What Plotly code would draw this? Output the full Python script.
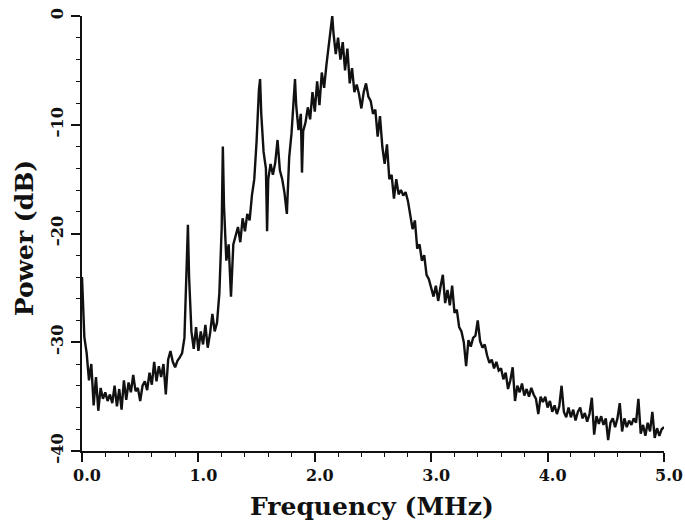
import plotly.graph_objects as go

# Power spectrum sampled in frequency (MHz) and power (dB)
freq = [
    0.00, 0.02, 0.04, 0.06, 0.08, 0.10, 0.12, 0.14, 0.16, 0.18,
    0.20, 0.22, 0.24, 0.26, 0.28, 0.30, 0.32, 0.34, 0.36, 0.38,
    0.40, 0.42, 0.44, 0.46, 0.48, 0.50, 0.52, 0.54, 0.56, 0.58,
    0.60, 0.62, 0.64, 0.66, 0.68, 0.70, 0.72, 0.74, 0.76, 0.78,
    0.80, 0.82, 0.84, 0.86, 0.88, 0.90, 0.91, 0.92, 0.94, 0.96,
    0.98, 1.00, 1.02, 1.04, 1.06, 1.08, 1.10, 1.12, 1.14, 1.16,
    1.18, 1.20, 1.21, 1.22, 1.24, 1.26, 1.28, 1.30, 1.32, 1.34,
    1.36, 1.38, 1.40, 1.42, 1.44, 1.46, 1.48, 1.50, 1.52, 1.53,
    1.54, 1.56, 1.58, 1.59, 1.60, 1.62, 1.64, 1.66, 1.68, 1.70,
    1.72, 1.74, 1.76, 1.78, 1.80, 1.82, 1.83, 1.84, 1.86, 1.88,
    1.89, 1.90, 1.92, 1.94, 1.96, 1.98, 2.00, 2.02, 2.04, 2.06,
    2.08, 2.10, 2.12, 2.14, 2.15, 2.16, 2.18, 2.20, 2.22, 2.24,
    2.26, 2.28, 2.30, 2.32, 2.34, 2.36, 2.38, 2.40, 2.42, 2.44,
    2.46, 2.48, 2.50, 2.52, 2.54, 2.56, 2.58, 2.60, 2.62, 2.64,
    2.66, 2.68, 2.70, 2.72, 2.74, 2.76, 2.78, 2.80, 2.82, 2.84,
    2.86, 2.88, 2.90, 2.92, 2.94, 2.96, 2.98, 3.00, 3.02, 3.04,
    3.06, 3.08, 3.10, 3.12, 3.14, 3.16, 3.18, 3.20, 3.22, 3.24,
    3.26, 3.28, 3.30, 3.32, 3.34, 3.36, 3.38, 3.40, 3.42, 3.44,
    3.46, 3.48, 3.50, 3.52, 3.54, 3.56, 3.58, 3.60, 3.62, 3.64,
    3.66, 3.68, 3.70, 3.72, 3.74, 3.76, 3.78, 3.80, 3.82, 3.84,
    3.86, 3.88, 3.90, 3.92, 3.94, 3.96, 3.98, 4.00, 4.02, 4.04,
    4.06, 4.08, 4.10, 4.12, 4.14, 4.16, 4.18, 4.20, 4.22, 4.24,
    4.26, 4.28, 4.30, 4.32, 4.34, 4.36, 4.38, 4.40, 4.42, 4.44,
    4.46, 4.48, 4.50, 4.52, 4.54, 4.56, 4.58, 4.60, 4.62, 4.64,
    4.66, 4.68, 4.70, 4.72, 4.74, 4.76, 4.78, 4.80, 4.82, 4.84,
    4.86, 4.88, 4.90, 4.92, 4.94, 4.96, 4.98, 5.00,
]

power_db = [
    -24.0, -29.5, -31.0, -33.5, -32.0, -35.8, -33.2, -36.3, -34.2, -35.2,
    -34.6, -35.4, -34.8, -35.6, -34.0, -35.9, -34.3, -36.2, -33.5, -35.3,
    -33.7, -34.6, -33.0, -34.5, -34.2, -35.4, -34.0, -33.6, -34.4, -32.8,
    -33.9, -31.8, -33.6, -32.2, -33.2, -32.0, -34.8, -31.6, -30.8, -31.8,
    -32.3, -31.7, -31.4, -31.0, -29.6, -22.5, -19.2, -24.0, -29.0, -30.6,
    -28.6, -30.8, -29.0, -30.2, -28.4, -30.5, -29.2, -27.4, -29.0, -28.2,
    -25.5, -19.5, -12.0, -17.5, -22.5, -21.0, -25.8, -21.0, -20.3, -19.4,
    -20.8, -18.6, -19.8, -18.2, -18.8, -16.5, -15.0, -11.5, -6.8, -5.8,
    -9.0, -12.5, -14.0, -19.8, -15.0, -13.6, -14.6, -13.5, -11.4, -14.2,
    -15.0, -16.3, -18.2, -13.0, -10.8, -7.5, -5.8, -8.2, -10.5, -9.0,
    -14.4, -10.6, -9.8, -8.4, -9.5, -7.0, -8.8, -6.0, -8.2, -5.2,
    -6.6, -4.5, -2.5, -0.8, 0.0, -1.5, -3.5, -2.0, -4.0, -2.4,
    -5.0, -3.0, -6.2, -4.8, -7.0, -6.3, -7.2, -8.5, -7.0, -6.2,
    -7.4, -7.8, -9.0, -8.6, -11.1, -9.2, -12.0, -13.6, -11.8, -15.0,
    -14.6, -16.8, -15.0, -16.4, -16.0, -16.5, -16.2, -17.0, -18.3, -19.6,
    -18.8, -21.4, -21.0, -22.5, -22.0, -23.8, -24.2, -25.0, -25.8, -24.8,
    -26.2, -24.9, -23.8, -26.4, -25.2, -26.6, -24.8, -27.3, -27.0, -28.6,
    -29.0, -30.0, -32.2, -29.8, -30.4, -29.6, -29.4, -28.0, -29.9, -30.5,
    -30.2, -31.2, -31.9, -31.6, -32.4, -31.8, -32.6, -32.4, -33.4, -32.8,
    -34.3, -33.5, -32.3, -35.4, -34.0, -34.6, -33.8, -34.9, -34.3, -35.0,
    -34.2, -34.8, -35.2, -36.6, -35.0, -35.5, -35.0, -36.0, -35.4, -36.4,
    -35.8, -36.6, -35.9, -34.0, -36.4, -36.9, -36.0, -36.9, -36.2, -37.2,
    -36.4, -36.0, -37.0, -36.5, -37.3, -36.6, -35.1, -38.5, -36.8, -37.5,
    -36.8, -37.6, -37.0, -39.0, -37.4, -37.0, -37.8, -37.0, -35.6, -38.2,
    -37.0, -37.8, -37.2, -37.6, -37.0, -37.4, -35.2, -38.4, -37.6, -38.6,
    -37.4, -38.2, -36.4, -38.8, -37.9, -38.6, -38.0, -37.8,
]

x_ticks = [0.0, 1.0, 2.0, 3.0, 4.0, 5.0]
x_tick_text = ["0.0", "1.0", "2.0", "3.0", "4.0", "5.0"]
y_ticks = [-40, -30, -20, -10, 0]
y_tick_text = ["\u201340", "\u201330", "\u201320", "\u201310", "0"]

SERIF = "DejaVu Serif"
INK = "#111111"

fig = go.Figure()
fig.add_trace(go.Scatter(
    x=freq, y=power_db, mode="lines",
    line=dict(color=INK, width=2.4),
    cliponaxis=False, hoverinfo="skip", showlegend=False,
))

axis_common = dict(
    showline=True, linecolor=INK, linewidth=1.5,
    showgrid=False, zeroline=False, automargin=False,
    ticks="outside", ticklen=9, tickwidth=1.5, tickcolor=INK,
    tickfont=dict(family=SERIF, size=16, color=INK, weight="bold"),
)

fig.update_xaxes(
    range=[0, 5.0], tickvals=x_ticks, ticktext=x_tick_text,
    ticklabelshift=5,
    minor=dict(dtick=0.2, ticks="outside", ticklen=4, tickwidth=1.2, tickcolor=INK),
    **axis_common,
)
fig.update_yaxes(
    range=[-40, 0], tickvals=y_ticks, ticktext=y_tick_text, tickangle=-90,
    ticklabelstandoff=2,
    minor=dict(dtick=2, ticks="outside", ticklen=4, tickwidth=1.2, tickcolor=INK),
    **axis_common,
)

fig.add_annotation(
    text="Frequency (MHz)", xref="paper", yref="paper",
    x=0.498, y=-0.128, xanchor="center", yanchor="middle", showarrow=False,
    font=dict(family=SERIF, size=25, color=INK, weight="bold"),
)
fig.add_annotation(
    text="Power (dB)", xref="paper", yref="paper", textangle=-90,
    x=-0.099, y=0.49, xanchor="center", yanchor="middle", showarrow=False,
    font=dict(family=SERIF, size=25, color=INK, weight="bold"),
)

fig.update_layout(
    width=685, height=520,
    margin=dict(l=82, r=21, t=16, b=69, autoexpand=False),
    paper_bgcolor="white", plot_bgcolor="white",
)

fig.write_html("out.html")
